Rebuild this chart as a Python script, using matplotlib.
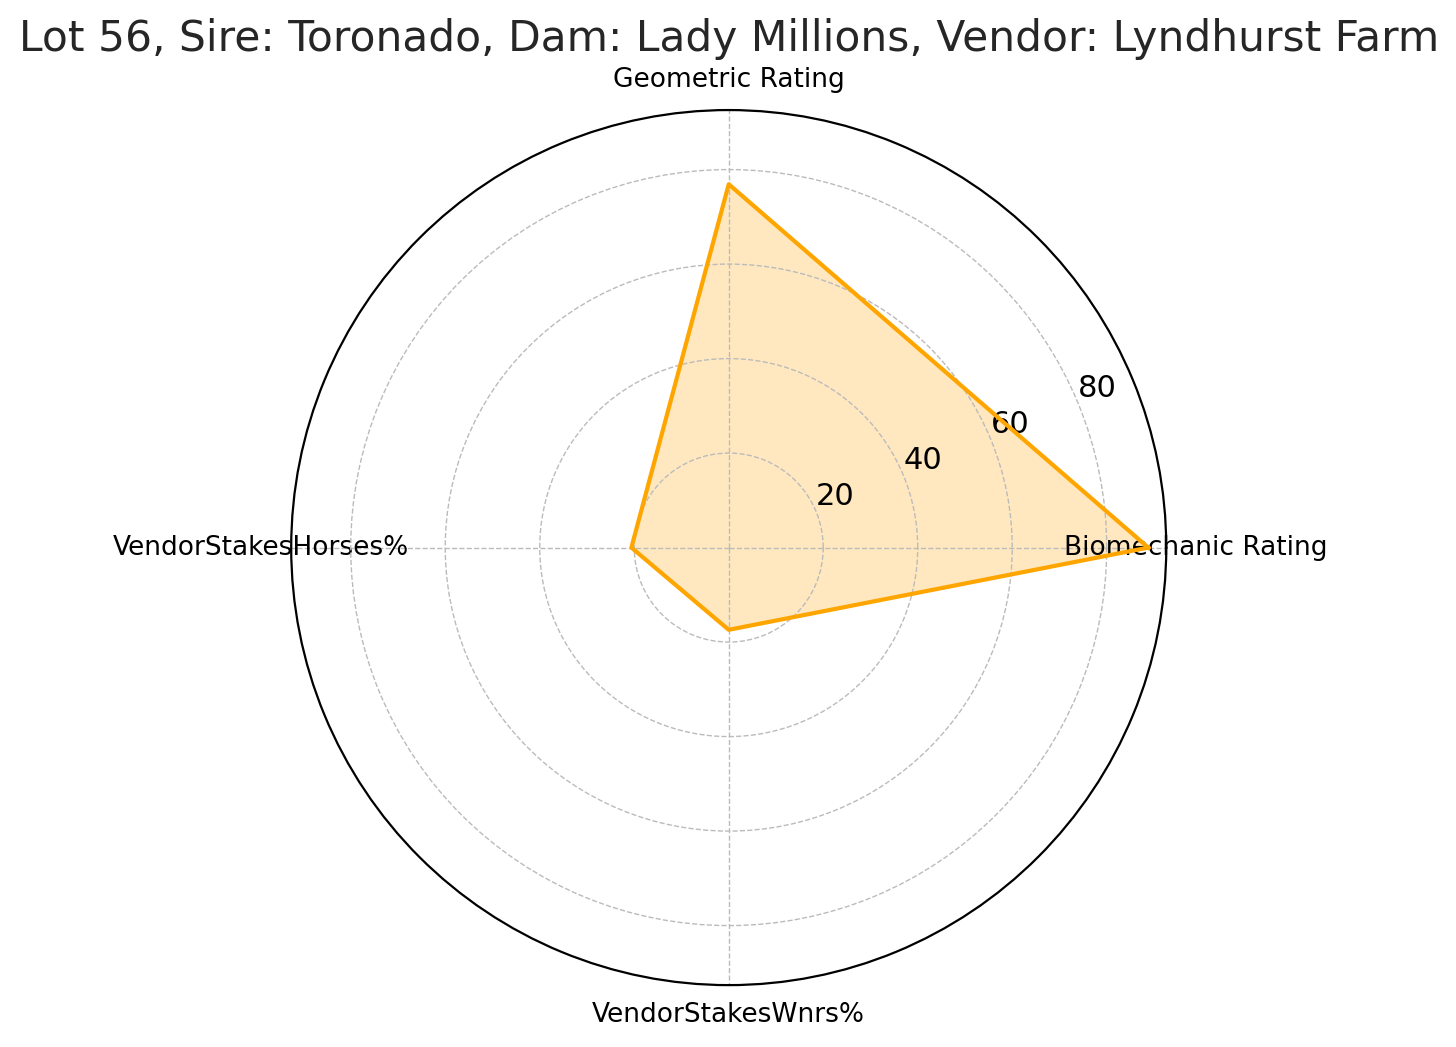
import numpy as np
import matplotlib
matplotlib.use('Agg')
import matplotlib.pyplot as plt

categories = ['Biomechanic Rating', 'Geometric Rating', 'VendorStakesHorses%', 'VendorStakesWnrs%']
values = [88.8, 76.9, 20.6, 17.4]
rticks = [20, 40, 60, 80]
title = 'Lot 56, Sire: Toronado, Dam: Lady Millions, Vendor: Lyndhurst Farm'

angles = np.linspace(0, 2 * np.pi, len(categories), endpoint=False).tolist()
vals = values + values[:1]
angs = angles + angles[:1]

fig = plt.figure(figsize=(14.56, 10.47), dpi=100)
ax = fig.add_axes([0.2, 0.059, 0.601, 0.836], polar=True)

ax.fill(angs, vals, color='orange', alpha=0.25)
ax.plot(angs, vals, color='orange', linewidth=3)

ax.set_xticks(angles)
ax.set_xticklabels(categories, fontsize=19)
ax.tick_params(axis='x', pad=11)
ax.set_yticks(rticks)
ax.set_yticklabels([str(t) for t in rticks], fontsize=22)
ax.set_ylim(0, 92.6)
ax.grid(True, linestyle='--', color='#bbbbbb', linewidth=1)
ax.spines['polar'].set_linewidth(1.6)

ax.set_title(title, fontsize=30.5, color='#262626', pad=12)

fig.savefig('out.png', dpi=100)
